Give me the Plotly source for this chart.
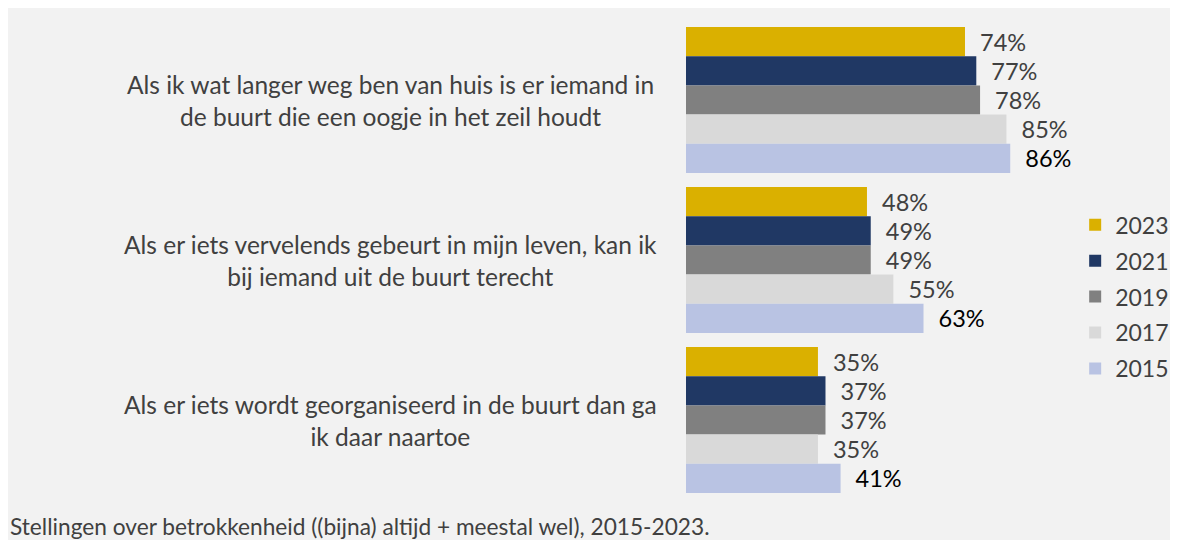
import plotly.graph_objects as go

# statements (wrapped the way the source shows them)
statements = [
    "Als ik wat langer weg ben van huis is er iemand in<br>de buurt die een oogje in het zeil houdt",
    "Als er iets vervelends gebeurt in mijn leven, kan ik<br>bij iemand uit de buurt terecht",
    "Als er iets wordt georganiseerd in de buurt dan ga<br>ik daar naartoe",
]
years = ["2023", "2021", "2019", "2017", "2015"]
pct_2023 = [74, 48, 35]
pct_2021 = [77, 49, 37]
pct_2019 = [78, 49, 37]
pct_2017 = [85, 55, 35]
pct_2015 = [86, 63, 41]
caption = "Stellingen over betrokkenheid ((bijna) altijd + meestal wel), 2015-2023."

values = [pct_2023, pct_2021, pct_2019, pct_2017, pct_2015]
colors = ["#DAB000", "#203864", "#808080", "#D9D9D9", "#B9C3E3"]
label_colors = ["#404040", "#404040", "#404040", "#404040", "#000000"]

FONT = "Lato"
BG = "#f2f2f2"

fig = go.Figure()
for year, vals, col, lcol in zip(years, values, colors, label_colors):
    fig.add_trace(go.Bar(
        y=statements, x=vals, name=year, orientation="h",
        marker=dict(color=col, line=dict(width=0)),
        text=[f"\u00a0\u00a0{v}%" for v in vals],
        textposition="outside", constraintext="none", cliponaxis=False,
        textfont=dict(family=FONT, size=23.5, color=lcol),
        legendgroup=year, hoverinfo="skip",
    ))

# category labels, centered like the original
for s in statements:
    fig.add_annotation(
        x=-0.6016, xref="paper", y=s, yref="y", text=s, showarrow=False,
        xanchor="center", align="center",
        font=dict(family=FONT, size=24.5, color="#404040"),
    )

fig.add_annotation(
    x=-1.378, xref="paper", y=-0.056, yref="paper", text=caption,
    showarrow=False, xanchor="left", yanchor="middle",
    font=dict(family=FONT, size=22.7, color="#404040"),
)

fig.update_layout(
    width=1170, height=532,
    margin=dict(l=678, r=0, t=12, b=40, autoexpand=False),
    paper_bgcolor=BG, plot_bgcolor=BG,
    barmode="group", bargap=0.0875, bargroupgap=0,
    showlegend=True,
    legend=dict(x=0.791, xanchor="left", y=0.618, yanchor="top",
                font=dict(family=FONT, size=23, color="#404040"),
                tracegroupgap=3, bgcolor="rgba(0,0,0,0)"),
    xaxis=dict(range=[0, 130.5], visible=False, fixedrange=True),
    yaxis=dict(autorange="reversed", showticklabels=False, showgrid=False,
               zeroline=False, showline=False, ticks=""),
)

fig.write_html("out.html")
